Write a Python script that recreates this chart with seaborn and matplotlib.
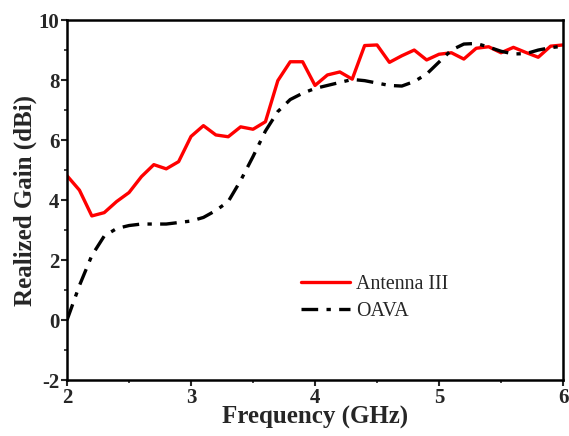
import matplotlib
matplotlib.use("Agg")
import matplotlib.pyplot as plt
import seaborn as sns
import pandas as pd
import numpy as np

freq_ant = [2.0, 2.1, 2.2, 2.3, 2.4, 2.5, 2.6, 2.7, 2.8, 2.9, 3.0, 3.1, 3.2, 3.3, 3.4,
            3.5, 3.6, 3.7, 3.8, 3.9, 4.0, 4.1, 4.2, 4.3, 4.4, 4.5, 4.6, 4.7, 4.8, 4.9,
            5.0, 5.1, 5.2, 5.3, 5.4, 5.5, 5.6, 5.7, 5.8, 5.9, 6.0]
gain_ant = [4.81, 4.33, 3.47, 3.58, 3.95, 4.25, 4.78, 5.18, 5.04, 5.28, 6.12, 6.48, 6.17,
            6.11, 6.44, 6.36, 6.61, 7.98, 8.61, 8.61, 7.82, 8.17, 8.27, 8.03, 9.15, 9.17,
            8.59, 8.81, 9.0, 8.67, 8.86, 8.91, 8.7, 9.06, 9.11, 8.91, 9.09, 8.92, 8.76,
            9.13, 9.17]

freq_oava = [2.0, 2.1, 2.2, 2.3, 2.4, 2.5, 2.6, 2.7, 2.8, 2.9, 3.0, 3.1, 3.2, 3.3, 3.4,
             3.5, 3.6, 3.7, 3.8, 3.9, 4.0, 4.1, 4.2, 4.3, 4.4, 4.5, 4.6, 4.7, 4.8, 4.9,
             5.0, 5.1, 5.2, 5.3, 5.4, 5.5, 5.6, 5.7, 5.8, 5.9, 6.0]
gain_oava = [0.0, 1.15, 2.15, 2.8, 3.05, 3.15, 3.2, 3.2, 3.2, 3.25, 3.3, 3.42, 3.65, 3.95,
             4.65, 5.45, 6.3, 6.95, 7.35, 7.56, 7.72, 7.82, 7.92, 8.02, 7.98, 7.9, 7.82,
             7.8, 7.95, 8.2, 8.6, 9.0, 9.2, 9.22, 9.1, 8.96, 8.87, 8.88, 9.0, 9.08, 9.13]

series_names = ["Antenna III", "OAVA"]

df = pd.concat([
    pd.DataFrame({"Frequency": freq_ant, "Gain": gain_ant, "Series": series_names[0]}),
    pd.DataFrame({"Frequency": freq_oava, "Gain": gain_oava, "Series": series_names[1]}),
])

sns.set_style("ticks")
plt.rcParams["font.family"] = ["Liberation Serif", "DejaVu Serif"]
plt.rcParams["axes.unicode_minus"] = False

fig = plt.figure(figsize=(5.69, 4.36), dpi=100)
ax = fig.add_axes([0.1178, 0.1284, 0.8717, 0.8256])

sns.lineplot(data=df, x="Frequency", y="Gain", hue="Series", style="Series",
             palette={"Antenna III": "#ff0000", "OAVA": "#000000"},
             dashes={"Antenna III": "", "OAVA": (5, 2.5, 1.3, 2.5)},
             linewidth=2.4, ax=ax, legend=True)

ax.set_xlim(2, 6)
ax.set_ylim(-2, 10)
ax.set_xticks([2, 3, 4, 5, 6])
ax.set_yticks([-2, 0, 2, 4, 6, 8, 10])
ax.set_xticks([2.5, 3.5, 4.5, 5.5], minor=True)
ax.set_yticks([-1, 1, 3, 5, 7, 9], minor=True)
ax.tick_params(axis="both", which="major", direction="out", length=4, width=1.5,
               labelsize=15, pad=1.5)
ax.tick_params(axis="both", which="minor", direction="out", length=2.5, width=1.2)
for lbl in ax.get_xticklabels() + ax.get_yticklabels():
    lbl.set_fontweight("bold")
for sp in ax.spines.values():
    sp.set_visible(True)
    sp.set_linewidth(1.8)
    sp.set_color("black")

ax.set_xlabel("Frequency (GHz)", fontsize=18, fontweight="bold", labelpad=-1)
ax.set_ylabel("Realized Gain (dBi)", fontsize=18, fontweight="bold", labelpad=1)

handles, labels = ax.get_legend_handles_labels()
ax.legend(handles=handles, labels=labels, loc="center left",
          bbox_to_anchor=(0.472, 0.228), frameon=False, fontsize=14.4,
          handlelength=2.45, handletextpad=0.3, labelspacing=0.42,
          borderaxespad=0, borderpad=0)

fig.savefig("out.png", dpi=100)
